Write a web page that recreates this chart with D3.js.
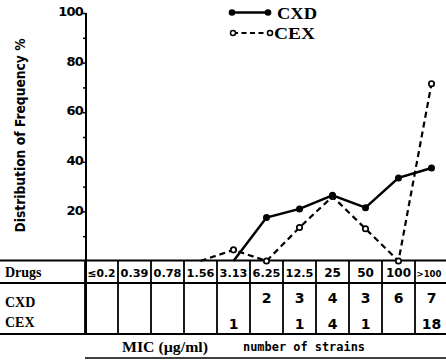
<!DOCTYPE html>
<html>
<head>
<meta charset="utf-8">
<script src="https://cdn.jsdelivr.net/npm/d3@7"></script>
<style>
  html, body { margin: 0; padding: 0; background: #fff; }
  svg { display: block; }
</style>
</head>
<body>
<script>
// MIC classes (µg/ml) along the x axis
const micLabels = ["≤0.2", "0.39", "0.78", "1.56", "3.13", "6.25", "12.5", "25", "50", "100", ">100"];

// Distribution of frequency (%) per MIC class; null = not plotted
const cxdValues = [null, null, null, null, 0, 17.5, 21, 26.5, 21.5, 33.5, 37.5];
const cexValues = [null, null, null, 0, 4.5, 0, 13.5, 26, 13, 0, 71.5];

// Number of strains per MIC class (table rows)
const cxdCounts = ["", "", "", "", "", "2", "3", "4", "3", "6", "7"];
const cexCounts = ["", "", "", "", "1", "", "1", "4", "1", "", "18"];

const yMajorTicks = [20, 40, 60, 80, 100];
const yMinorTicks = [10, 30, 50, 70, 90];

const W = 446, H = 363;
const serif = "'Liberation Serif', 'DejaVu Serif', serif";
const sans = "'DejaVu Sans', 'Liberation Sans', sans-serif";

const svg = d3.select("body").append("svg")
  .attr("width", W).attr("height", H);

const x = d3.scaleBand().domain(micLabels).range([85, 448]).padding(0);
const y = d3.scaleLinear().domain([0, 100]).range([261, 13]);
const cx = d => x(d) + x.bandwidth() / 2;

// shrink a text's font size when it is wider than the room it has
function fitWidth(sel, maxW) {
  sel.each(function () {
    const el = d3.select(this);
    const w = this.getComputedTextLength();
    if (w > maxW) el.attr("font-size", +el.attr("font-size") * maxW / w);
  });
}

// ---- y axis ----
const axisX = 86;
const yAxis = d3.axisLeft(y).tickValues(yMajorTicks).tickSize(3).tickPadding(0)
  .tickFormat(d3.format("d"));
const gY = svg.append("g").attr("transform", `translate(${axisX},0)`).call(yAxis);
gY.select(".domain").remove();
gY.selectAll(".tick line").attr("stroke", "#000").attr("stroke-width", 1.5);
gY.selectAll(".tick text")
  .attr("font-family", sans).attr("font-weight", "bold").attr("font-size", 13)
  .attr("fill", "#000").attr("dy", "0.2em")
  .attr("letter-spacing", -0.8);

const yMinor = d3.axisLeft(y).tickValues(yMinorTicks).tickSize(3).tickFormat("");
const gYm = svg.append("g").attr("transform", `translate(${axisX},0)`).call(yMinor);
gYm.select(".domain").remove();
gYm.selectAll(".tick line").attr("stroke", "#000").attr("stroke-width", 1.5);

svg.append("line")
  .attr("x1", axisX).attr("x2", axisX)
  .attr("y1", y(100)).attr("y2", 334)
  .attr("stroke", "#000").attr("stroke-width", 2);

svg.append("text")
  .attr("transform", `translate(25,${(38 + 233) / 2}) rotate(-90)`)
  .attr("text-anchor", "middle")
  .attr("font-family", sans).attr("font-weight", "bold").attr("font-size", 14)
  .attr("textLength", 194).attr("lengthAdjust", "spacingAndGlyphs")
  .text("Distribution of Frequency %");

// ---- table grid ----
const gridTop = 260.5, headerBottom = 283, gridBottom = 334;
[gridTop, headerBottom, gridBottom].forEach(yy => {
  svg.append("line").attr("x1", 0).attr("x2", W).attr("y1", yy).attr("y2", yy)
    .attr("stroke", "#000").attr("stroke-width", 2);
});
micLabels.forEach(d => {
  svg.append("line")
    .attr("x1", x(d)).attr("x2", x(d))
    .attr("y1", gridTop).attr("y2", gridBottom)
    .attr("stroke", "#000").attr("stroke-width", 1.8);
});

// row titles
const rowTitle = (t, yy) => svg.append("text")
  .attr("x", 5).attr("y", yy)
  .attr("font-family", serif).attr("font-weight", "bold").attr("font-size", 14)
  .text(t);
rowTitle("Drugs", 277);
rowTitle("CXD", 307);
rowTitle("CEX", 327);

// header MIC values and counts
const cellText = (arr, yy, size) => svg.append("g").selectAll("text")
  .data(arr.map((v, i) => ({ v, k: micLabels[i] })))
  .join("text")
  .attr("x", d => cx(d.k)).attr("y", yy)
  .attr("text-anchor", "middle")
  .attr("font-family", sans).attr("font-weight", "bold").attr("font-size", size)
  .text(d => d.v);
const header = cellText(micLabels, 276.5, 12);
fitWidth(header, 28);
// the last column runs to the page edge; keep its label just inside
header.filter(d => d.k === ">100").attr("x", d => cx(d.k) - 2.5).call(fitWidth, 25);
cellText(cxdCounts, 303, 14);
cellText(cexCounts, 329, 14);

// footer captions
svg.append("text").attr("x", 122).attr("y", 352)
  .attr("font-family", serif).attr("font-weight", "bold").attr("font-size", 15)
  .attr("textLength", 86).attr("lengthAdjust", "spacingAndGlyphs")
  .text("MIC (\u00b5g/ml)");
svg.append("text").attr("x", 243).attr("y", 351)
  .attr("font-family", "'DejaVu Sans Mono', monospace").attr("font-weight", "bold").attr("font-size", 12)
  .attr("textLength", 122).attr("lengthAdjust", "spacingAndGlyphs")
  .text("number of strains");
svg.append("line").attr("x1", 85).attr("x2", W).attr("y1", 358).attr("y2", 358)
  .attr("stroke", "#000").attr("stroke-width", 1.5);

// ---- series ----
const toPoints = vals => vals.map((v, i) => ({ k: micLabels[i], v })).filter(d => d.v !== null);
const line = d3.line().x(d => cx(d.k)).y(d => y(d.v));

const cxdPts = toPoints(cxdValues);
const cexPts = toPoints(cexValues);

svg.append("path").datum(cexPts).attr("d", line)
  .attr("fill", "none").attr("stroke", "#000").attr("stroke-width", 2.2)
  .attr("stroke-dasharray", "6,4");
svg.append("path").datum(cxdPts).attr("d", line)
  .attr("fill", "none").attr("stroke", "#000").attr("stroke-width", 2.5);

// the first point of each series is the baseline start, drawn without a marker
svg.append("g").selectAll("circle").data(cexPts.slice(1)).join("circle")
  .attr("cx", d => cx(d.k)).attr("cy", d => y(d.v)).attr("r", 2.7)
  .attr("fill", "#fff").attr("stroke", "#000").attr("stroke-width", 1.7);
svg.append("g").selectAll("circle").data(cxdPts.slice(1)).join("circle")
  .attr("cx", d => cx(d.k)).attr("cy", d => y(d.v)).attr("r", 3.5)
  .attr("fill", "#000");

// ---- legend ----
const legend = svg.append("g");
legend.append("line").attr("x1", 232).attr("x2", 268).attr("y1", 12.5).attr("y2", 12.5)
  .attr("stroke", "#000").attr("stroke-width", 2.4);
[232, 268].forEach(px => legend.append("circle").attr("cx", px).attr("cy", 12.5).attr("r", 3.3).attr("fill", "#000"));
legend.append("text").attr("x", 277).attr("y", 18.5)
  .attr("font-family", serif).attr("font-weight", "bold").attr("font-size", 16)
  .attr("textLength", 40).attr("lengthAdjust", "spacingAndGlyphs").text("CXD");

legend.append("line").attr("x1", 233).attr("x2", 270).attr("y1", 33).attr("y2", 33)
  .attr("stroke", "#000").attr("stroke-width", 2).attr("stroke-dasharray", "5,3.5");
[233, 270].forEach(px => legend.append("circle").attr("cx", px).attr("cy", 33).attr("r", 2.5)
  .attr("fill", "#fff").attr("stroke", "#000").attr("stroke-width", 1.5));
legend.append("text").attr("x", 274).attr("y", 39)
  .attr("font-family", serif).attr("font-weight", "bold").attr("font-size", 16)
  .attr("textLength", 41).attr("lengthAdjust", "spacingAndGlyphs").text("CEX");
</script>
</body>
</html>
